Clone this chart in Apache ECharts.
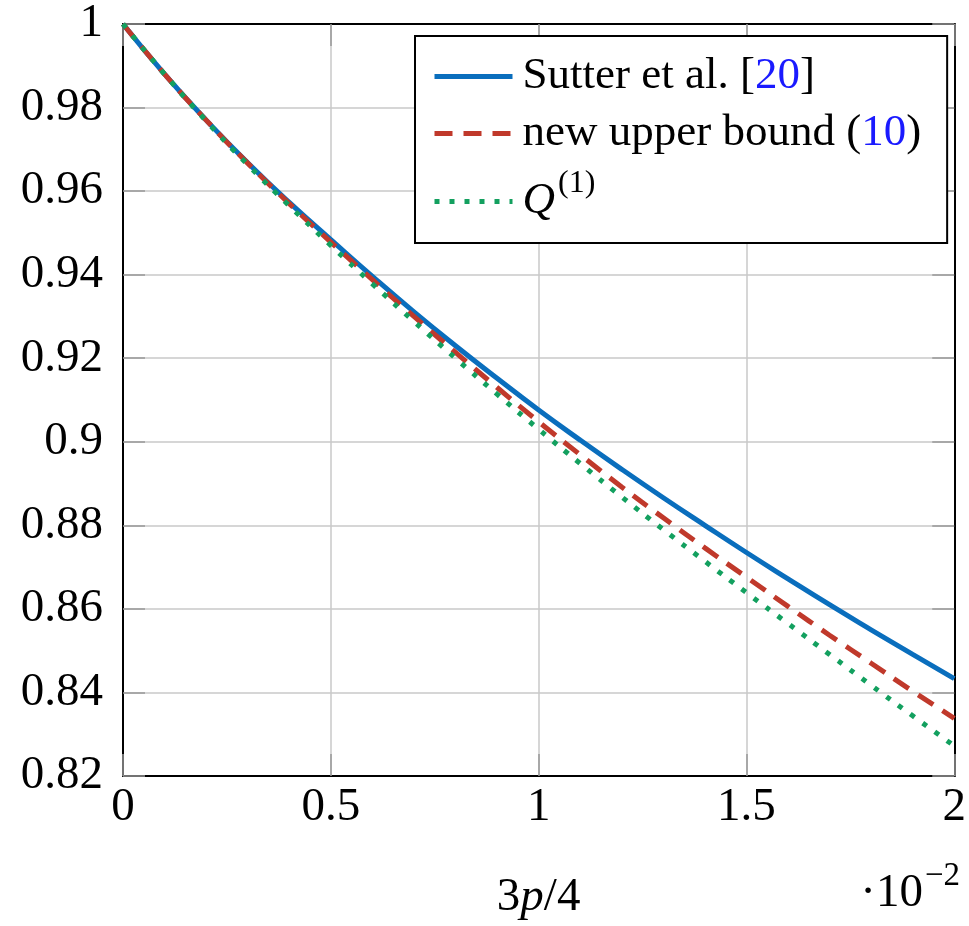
<!DOCTYPE html>
<html>
<head>
<meta charset="utf-8">
<script src="https://cdn.jsdelivr.net/npm/echarts@6/dist/echarts.min.js"></script>
<style>
  html, body { margin: 0; padding: 0; background: #fff; }
  #chart { width: 969px; height: 926px; }
</style>
</head>
<body>
<div id="chart"></div>
<script>
// x in units of 10^-2 (3p/4)
const xValues = [0, 0.1, 0.2, 0.3, 0.4, 0.5, 0.6, 0.7, 0.8, 0.9, 1.0,
  1.1, 1.2, 1.3, 1.4, 1.5, 1.6, 1.7, 1.8, 1.9, 2.0];
const sutter = [1.0, 0.988, 0.977, 0.9668, 0.9573, 0.9484, 0.9396, 0.9311, 0.923, 0.9152, 0.9076,
  0.9004, 0.8934, 0.8866, 0.88, 0.8735, 0.8672, 0.861, 0.855, 0.8491, 0.8433];
const upperBound = [1.0, 0.988, 0.977, 0.9667, 0.957, 0.9478, 0.9388, 0.93, 0.9214, 0.913, 0.9048,
  0.8969, 0.8892, 0.8818, 0.8746, 0.8676, 0.8606, 0.8537, 0.847, 0.8403, 0.8338];
const q1 = [1.0, 0.988, 0.9768, 0.9663, 0.9565, 0.947, 0.9378, 0.9288, 0.92, 0.9114, 0.903,
  0.8948, 0.8868, 0.879, 0.8714, 0.8639, 0.8565, 0.8491, 0.8417, 0.8344, 0.8272];

const names = ["Sutter et al. [20]", "new upper bound (10)", "Q(1)"];
const legendLabels = {
  "Sutter et al. [20]": "Sutter et al. [{link|20}]",
  "new upper bound (10)": "new upper bound ({link|10})",
  "Q(1)": "{it|Q}{sup|(1)}",
};

const font = "'Liberation Serif', 'DejaVu Serif', serif";
const chart = echarts.init(document.getElementById("chart"));

function pairs(ys) {
  return xValues.map((x, i) => [x, ys[i]]);
}

const frameAxis = {
  type: "value",
  axisLine: { show: true, onZero: false, lineStyle: { color: "#000", width: 2 } },
  axisTick: { show: true, inside: true, length: 22, lineStyle: { color: "#999", width: 1.5 } },
};

chart.setOption({
  animation: false,
  backgroundColor: "#fff",
  grid: { left: 123, top: 24, right: 14, bottom: 140 },
  xAxis: [
    Object.assign({}, frameAxis, {
      position: "bottom",
      min: 0, max: 2, interval: 0.5,
      splitLine: { show: true, lineStyle: { color: "#c8c8c8", width: 1.5 } },
      axisLabel: { fontFamily: font, fontSize: 47, color: "#000", margin: 8 },
      name: "{a|3}{i|p}{a|/4}",
      nameLocation: "middle",
      nameGap: 98,
      nameTextStyle: {
        rich: {
          a: { fontFamily: font, fontSize: 47, color: "#000" },
          i: { fontFamily: font, fontSize: 47, fontStyle: "italic", color: "#000" },
        },
      },
    }),
    Object.assign({}, frameAxis, {
      position: "top",
      min: 0, max: 2, interval: 0.5,
      splitLine: { show: false },
      axisLabel: { show: false },
    }),
  ],
  yAxis: [
    Object.assign({}, frameAxis, {
      position: "left",
      min: 0.82, max: 1, interval: 0.02,
      splitLine: { show: true, lineStyle: { color: "#c8c8c8", width: 1.5 } },
      axisLabel: { fontFamily: font, fontSize: 47, color: "#000", margin: 20 },
    }),
    Object.assign({}, frameAxis, {
      position: "right",
      min: 0.82, max: 1, interval: 0.02,
      splitLine: { show: false },
      axisLabel: { show: false },
    }),
  ],
  legend: {
    orient: "vertical",
    left: 415,
    top: 36,
    itemWidth: 78,
    itemHeight: 14,
    itemGap: 12,
    padding: [18, 26, 19, 17],
    borderColor: "#000",
    borderWidth: 2,
    backgroundColor: "#fff",
    data: names,
    itemStyle: { opacity: 0 },
    lineStyle: { width: 5 },
    formatter: (name) => legendLabels[name],
    textStyle: {
      fontFamily: font,
      fontSize: 45,
      color: "#000",
      lineHeight: 45,
      padding: [0, 0, 0, 5],
      rich: {
        link: { fontFamily: font, fontSize: 45, color: "#1a1aff", verticalAlign: "bottom" },
        it: { fontFamily: font, fontSize: 45, fontStyle: "italic", color: "#000", verticalAlign: "bottom" },
        sup: { fontFamily: font, fontSize: 32, color: "#000", verticalAlign: "bottom", padding: [0, 0, 24, 3] },
      },
    },
  },
  graphic: [
    {
      type: "text",
      right: 9,
      top: 860,
      style: {
        text: "{a|·10}{s|−2}",
        rich: {
          a: { fontFamily: font, fontSize: 47, color: "#000", verticalAlign: "bottom" },
          s: { fontFamily: font, fontSize: 33, color: "#000", verticalAlign: "bottom", padding: [0, 0, 24, 2] },
        },
      },
    },
  ],
  series: [
    {
      name: names[0],
      type: "line",
      data: pairs(sutter),
      smooth: true,
      symbol: "none",
      lineStyle: { color: "#0a6ebd", width: 5 },
      itemStyle: { color: "#0a6ebd" },
    },
    {
      name: names[1],
      type: "line",
      data: pairs(upperBound),
      smooth: true,
      symbol: "none",
      lineStyle: { color: "#c0392b", width: 5, type: [18, 11] },
      itemStyle: { color: "#c0392b" },
    },
    {
      name: names[2],
      type: "line",
      data: pairs(q1),
      smooth: true,
      symbol: "none",
      lineStyle: { color: "#13a05f", width: 5, type: [5, 10] },
      itemStyle: { color: "#13a05f" },
    },
  ],
});

window.addEventListener("resize", () => chart.resize());
</script>
</body>
</html>
